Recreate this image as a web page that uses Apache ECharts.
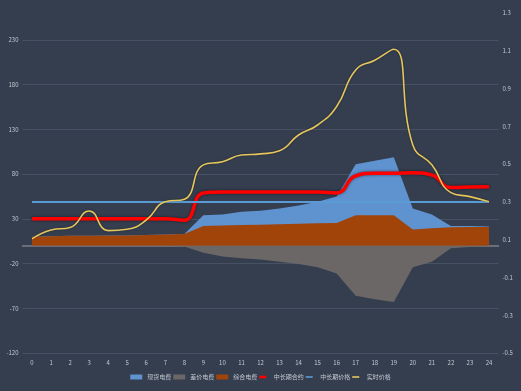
<!DOCTYPE html>
<html><head><meta charset="utf-8">
<script src="https://cdn.jsdelivr.net/npm/echarts@6/dist/echarts.min.js"></script>
<style>html,body{margin:0;padding:0;background:#343e4f;}#c{width:521px;height:391px;}</style>
</head><body><div id="c"></div>
<script>
const hours = ['0','1','2','3','4','5','6','7','8','9','10','11','12','13','14','15','16','17','18','19','20','21','22','23','24'];
const spotFee = [10,10.5,11,11,11.5,11.5,12,12.5,13,34,35,38,39,41.5,45,49,55,91,95,99,41.5,35,22,22,21.5];
const diffFee = [0,0,0,0,0,0,0,0,-1,-8,-12,-14,-15.5,-18,-20.5,-24,-31,-56,-60,-63,-24,-18,-3,-1.5,0];
const totalFee = [10,10.5,11,11,11.5,11.5,12,12.5,13,22,22.5,23,23.5,24,24.5,25,25.5,34,34,34,18,19.5,20.5,21,21];
const contract = [30,30,30,30,30,30,30,30,28.5,59,60,60,60,60,60,60,59,78,81,81,81.5,79,65,65.5,66];
const midPrice = [0.3,0.3,0.3,0.3,0.3,0.3,0.3,0.3,0.3,0.3,0.3,0.3,0.3,0.3,0.3,0.3,0.3,0.3,0.3,0.3,0.3,0.3,0.3,0.3,0.3];
const realPrice = [0.104,0.151,0.164,0.252,0.148,0.155,0.204,0.301,0.314,0.496,0.513,0.548,0.554,0.571,0.654,0.707,0.805,0.998,1.05,1.108,0.601,0.496,0.349,0.328,0.301];
const leftTicks = {min:-120, max:230, interval:50};
const rightTicks = {min:-0.5, max:1.3, interval:0.2};

const FONT = '"Noto Sans CJK SC","Noto Sans",sans-serif';
const labelColor = '#c3c7cf';
const thinLine = 'path://M0,0 M0,3.4 L14,3.4 L14,6.6 L0,6.6 Z M14,10';
const thickLine = 'path://M0,0 M0,2.4 L14,2.4 L14,7.6 L0,7.6 Z M14,10';
const chart = echarts.init(document.getElementById('c'), null, {renderer:'canvas'});
chart.setOption({
  backgroundColor:'#343e4f',
  animation:false,
  textStyle:{fontFamily:FONT},
  grid:[
    {left:22.5, right:22.5, top:40, bottom:38},
    {left:22.5, right:22.5, top:13, bottom:38}
  ],
  legend:{
    bottom:6, left:'center', itemWidth:12, itemHeight:5, itemGap:2,
    textStyle:{color:labelColor, fontSize:6, fontFamily:FONT},
    data:[
      {name:'现货电费', icon:'rect'},
      {name:'差价电费', icon:'rect'},
      {name:'综合电费', icon:'rect'},
      {name:'中长期合约', icon:thickLine},
      {name:'中长期价格', icon:thinLine},
      {name:'实时价格', icon:thinLine}
    ]
  },
  xAxis:[
    {type:'category', gridIndex:0, data:hours, boundaryGap:true,
     axisLine:{onZero:true, lineStyle:{color:'#7b7f86', width:1.5}},
     axisTick:{show:false},
     axisLabel:{color:labelColor, fontSize:6, margin:7, interval:0}},
    {type:'category', gridIndex:1, data:hours, boundaryGap:true, show:false}
  ],
  yAxis:[
    {type:'value', gridIndex:0, min:leftTicks.min, max:leftTicks.max, interval:leftTicks.interval,
     axisLine:{show:false}, axisTick:{show:false},
     axisLabel:{color:labelColor, fontSize:6, margin:4},
     splitLine:{lineStyle:{color:'#465163', width:1}}},
    {type:'value', gridIndex:1, position:'right', min:rightTicks.min, max:rightTicks.max, interval:rightTicks.interval,
     axisLine:{show:false}, axisTick:{show:false},
     axisLabel:{color:labelColor, fontSize:6, margin:4, formatter:v=>(Math.round(v*10)/10).toString()},
     splitLine:{show:false}}
  ],
  series:[
    {name:'现货电费', type:'line', xAxisIndex:0, yAxisIndex:0, data:spotFee, symbol:'none',
     color:'#5f93cf', lineStyle:{width:0}, areaStyle:{color:'#5f93cf', opacity:1}},
    {name:'差价电费', type:'line', xAxisIndex:0, yAxisIndex:0, data:diffFee, symbol:'none',
     color:'#6a6766', lineStyle:{width:0}, areaStyle:{color:'#6a6766', opacity:1}},
    {name:'综合电费', type:'line', xAxisIndex:0, yAxisIndex:0, data:totalFee, symbol:'none',
     color:'#a1440a', lineStyle:{width:0}, areaStyle:{color:'#a1440a', opacity:1}},
    {name:'中长期合约', type:'line', xAxisIndex:0, yAxisIndex:0, data:contract, symbol:'none', smooth:true,
     color:'#ff0000', lineStyle:{width:3.5, color:'#ff0000', shadowColor:'rgba(0,0,0,0.5)', shadowBlur:3}},
    {name:'中长期价格', type:'line', xAxisIndex:1, yAxisIndex:1, data:midPrice, symbol:'none',
     color:'#5b9bd5', lineStyle:{width:2, color:'#5b9bd5'}},
    {name:'实时价格', type:'line', xAxisIndex:1, yAxisIndex:1, data:realPrice, symbol:'none', smooth:true,
     color:'#e6c65c', lineStyle:{width:1.6, color:'#e6c65c', shadowColor:'rgba(0,0,0,0.4)', shadowBlur:2}}
  ]
});
</script>
</body></html>
